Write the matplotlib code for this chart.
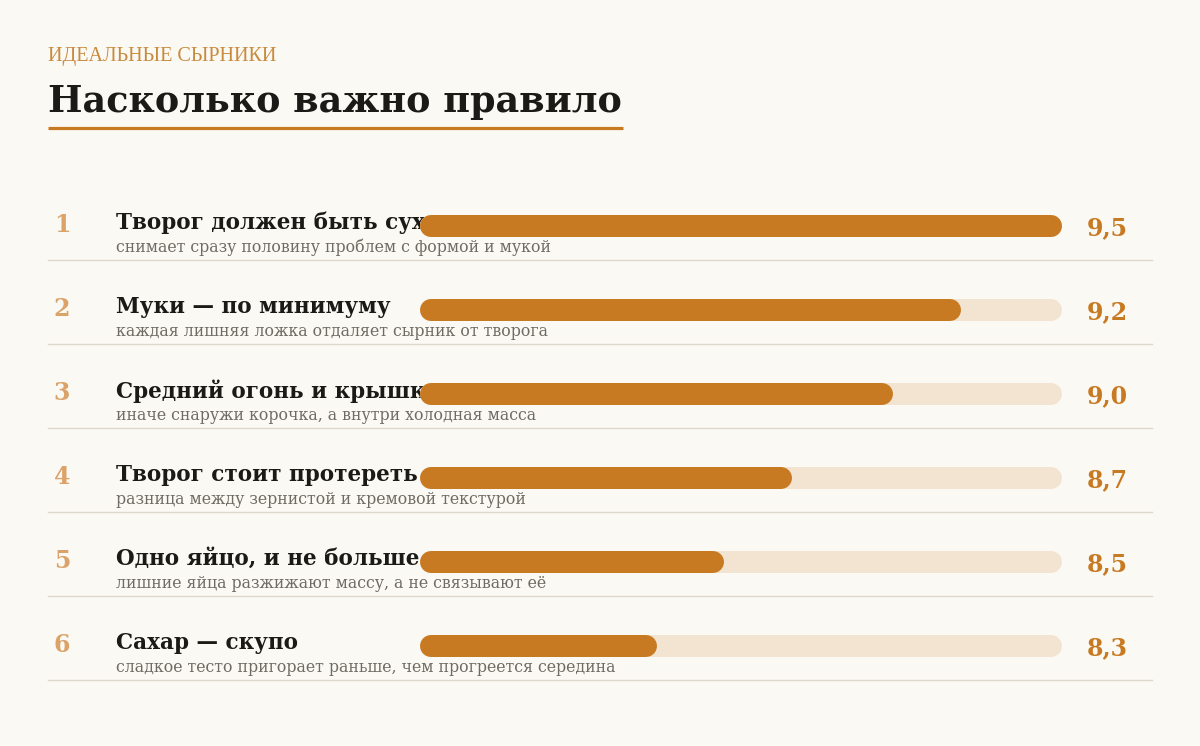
import matplotlib
matplotlib.use("Agg")
import matplotlib.pyplot as plt

# data
ranks = ["1", "2", "3", "4", "5", "6"]
rules = ["Творог должен быть сухим",
         "Муки — по минимуму",
         "Средний огонь и крышка",
         "Творог стоит протереть",
         "Одно яйцо, и не больше",
         "Сахар — скупо"]
notes = ["снимает сразу половину проблем с формой и мукой",
         "каждая лишняя ложка отдаляет сырник от творога",
         "иначе снаружи корочка, а внутри холодная масса",
         "разница между зернистой и кремовой текстурой",
         "лишние яйца разжижают массу, а не связывают её",
         "сладкое тесто пригорает раньше, чем прогреется середина"]
scores = [9.5, 9.2, 9.0, 8.7, 8.5, 8.3]
labels = ["9,5", "9,2", "9,0", "8,7", "8,5", "8,3"]
scale_min, scale_max = 7.6, 9.5

BG = "#FBF9F3"
ORANGE = "#C87A22"
TRACK = "#F3E4D1"
RANKC = "#DBA36A"
KICKER = "#C98A3E"
INK = "#1C1A17"
GREY = "#6E6A64"
RULE = "#DDD8CD"

W, H = 1200, 746
fig = plt.figure(figsize=(W / 100, H / 100), dpi=100, facecolor=BG)

bg = fig.add_axes([0, 0, 1, 1])
bg.set_xlim(0, W)
bg.set_ylim(H, 0)
bg.axis("off")
bg.set_facecolor(BG)

serif = ["DejaVu Serif"]

bg.text(48, 57, "ИДЕАЛЬНЫЕ СЫРНИКИ", family=["Liberation Serif"], fontsize=14.5,
        color=KICKER, va="center", ha="left")
bg.text(48, 102, "Насколько важно правило", family=serif, fontsize=26.3,
        fontweight="bold", color=INK, va="center", ha="left")
bg.plot([48, 623], [128, 128], color=ORANGE, lw=2.3, solid_capstyle="butt")

row_top, row_h = 184, 84
for i in range(len(scores)):
    yc = row_top + row_h * i + 42
    bg.text(62, yc - 1, ranks[i], family=serif, fontsize=17, fontweight="bold",
            color=RANKC, va="center", ha="center")
    bg.text(116, yc - 3, rules[i], family=serif, fontsize=15.5, fontweight="bold",
            color=INK, va="center", ha="left")
    bg.text(116, yc + 21, notes[i], family=serif, fontsize=11.3,
            color=GREY, va="center", ha="left")
    bg.text(1087, yc + 2, labels[i], family=serif, fontsize=17, fontweight="bold",
            color=ORANGE, va="center", ha="left")
    sep = row_top + row_h * (i + 1) - 8
    bg.plot([48, 1152], [sep, sep], color=RULE, lw=1)

# bar axes: x in score units, rows in index units
bx0, bx1 = 420, 1062
bax = fig.add_axes([bx0 / W, (H - (row_top + row_h * len(scores))) / H,
                    (bx1 - bx0) / W, row_h * len(scores) / H])
bax.set_xlim(scale_min, scale_max)
bax.set_ylim(len(scores), 0)
bax.axis("off")
bax.patch.set_alpha(0)

bar_px = 22
lw_pt = bar_px * 72 / 100
cap = (bar_px / 2) / (bx1 - bx0) * (scale_max - scale_min)
for i, v in enumerate(scores):
    y = i + 0.5
    bax.plot([scale_min + cap, scale_max - cap], [y, y], color=TRACK, lw=lw_pt,
             solid_capstyle="round", zorder=1)
    bax.plot([scale_min + cap, v - cap], [y, y], color=ORANGE, lw=lw_pt,
             solid_capstyle="round", zorder=2)

fig.savefig("out.png", dpi=100, facecolor=BG)
